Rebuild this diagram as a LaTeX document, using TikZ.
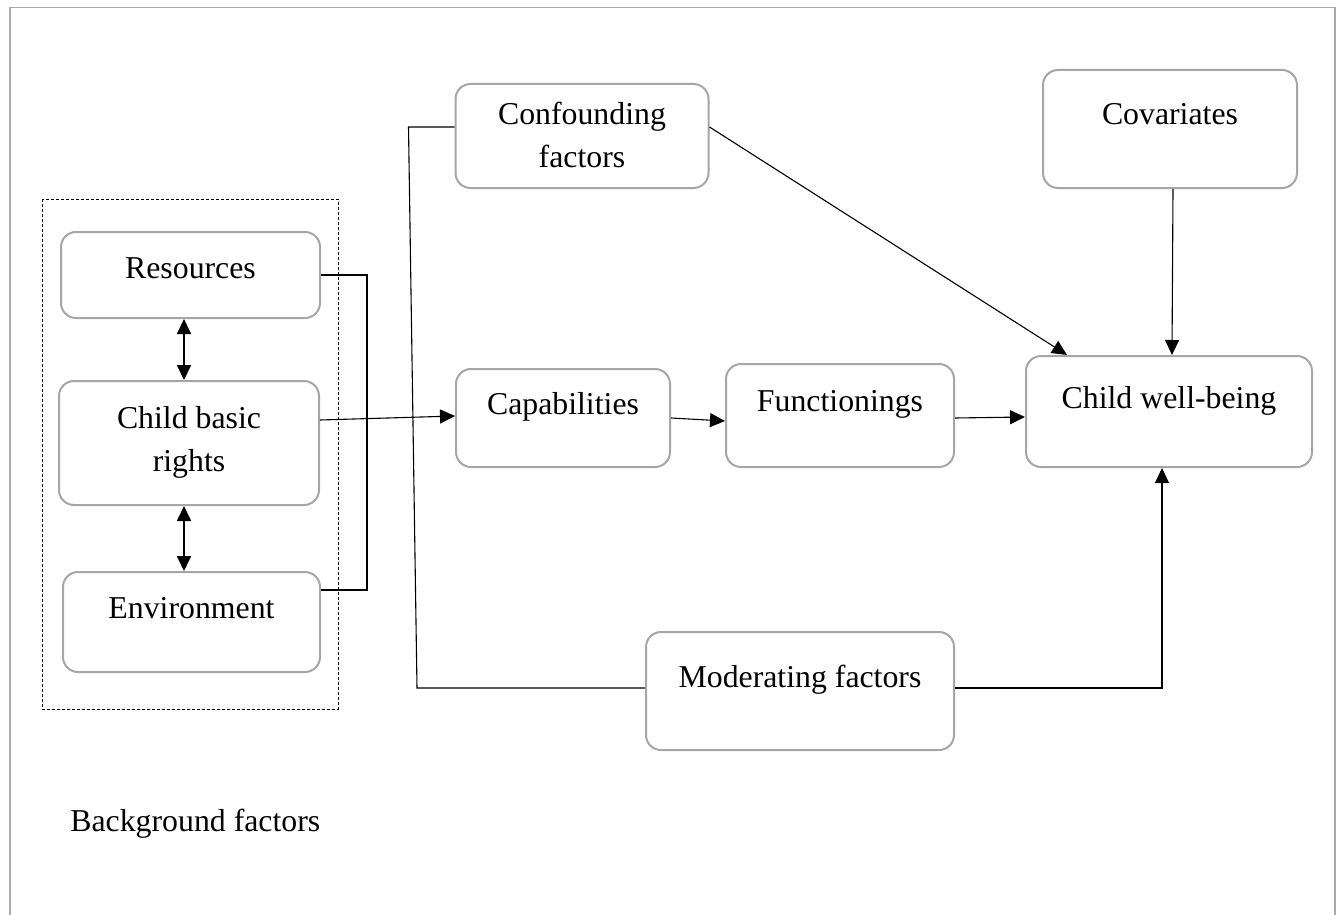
\documentclass[tikz,border=0pt]{standalone}
\usepackage{fontspec}
\setmainfont{Liberation Serif}
\usepackage{xcolor}
\usetikzlibrary{arrows.meta}
\definecolor{boxgray}{HTML}{A6A6A6}
\definecolor{framegray}{HTML}{AAAAAA}

\begin{document}
\begin{tikzpicture}[x=0.5pt, y=-0.5pt,
    factor/.style={draw=boxgray, line width=1pt, rounded corners=7.5pt,
      inner sep=0pt, align=center, anchor=north,
      font=\fontsize{15.9pt}{21.5pt}\selectfont},
    link/.style={line width=0.55pt},
    arrow/.style={link, -{Triangle[length=7.5pt, width=7pt]}},
    twoway/.style={line width=0.9pt,
      {Triangle[length=7.5pt, width=7pt]}-{Triangle[length=7.5pt, width=7pt]}}]
  \useasboundingbox (0,0) rectangle (1344,915);
  \draw[framegray, line width=0.85pt] (10,915) -- (10,7.5) -- (1335,7.5) -- (1335,915);
  \draw[line width=0.5pt, dash pattern=on 1.5pt off 1pt] (42,199) rectangle (338,709);

  \node[factor, minimum width=129.5pt, text height=23pt, text depth=20pt] (res) at (190.5,231) {Resources};
  \node[factor, minimum width=130pt, text height=45pt, text depth=17pt] (cbr) at (189,380) {Child basic\\rights};
  \node[factor, minimum width=128.5pt, text height=23pt, text depth=27pt] (env) at (191.5,571) {Environment};
  \node[factor, minimum width=126.5pt, text height=42pt, text depth=10pt] (conf) at (582,83) {Confounding\\factors};
  \node[factor, minimum width=127pt, text height=27.5pt, text depth=31.5pt] (cov) at (1170,69) {Covariates};
  \node[factor, minimum width=107pt, text height=22.5pt, text depth=26.5pt] (cap) at (563,368) {Capabilities};
  \node[factor, minimum width=114pt, text height=23.5pt, text depth=28pt] (fun) at (840,363) {Functionings};
  \node[factor, minimum width=143pt, text height=26pt, text depth=29.5pt] (cwb) at (1169,355) {Child well-being};
  \node[factor, minimum width=154pt, text height=27.5pt, text depth=31.5pt] (mod) at (800,631) {Moderating factors};
  \node[anchor=base west, inner sep=0pt, font=\fontsize{15.9pt}{21.5pt}\selectfont] (bgf) at (70,831) {Background factors};

  \draw[link] (res.east) -- ++(46,0) |- ([yshift=16pt]env.east);
  \draw[twoway] ([xshift=-3.25pt]res.south) -- ([xshift=-2.5pt]cbr.north);
  \draw[twoway] ([xshift=-2.5pt]cbr.south) -- ([xshift=-3.75pt]env.north);
  \draw[arrow] ([yshift=11.5pt]cbr.east) -- ([yshift=1pt]cap.west);
  \draw[arrow] (cap.east) -- ([yshift=-2.75pt]fun.west);
  \draw[arrow] ([yshift=-1.25pt]fun.east) -- ([yshift=-2.75pt]cwb.west);
  \draw[arrow] ([yshift=4.5pt]conf.east) -- ([xshift=-51pt]cwb.north);
  \draw[arrow] ([xshift=1.5pt]cov.south) -- ([xshift=1.5pt]cwb.north);
  \draw[link] ([yshift=4.5pt]conf.west) -- ++(-46,0) -- ([shift={(-114pt,1.5pt)}]mod.west) -- ([yshift=1.5pt]mod.west);
  \draw[arrow] ([yshift=1.5pt]mod.east) -| ([xshift=-3.5pt]cwb.south);
\end{tikzpicture}
\end{document}
